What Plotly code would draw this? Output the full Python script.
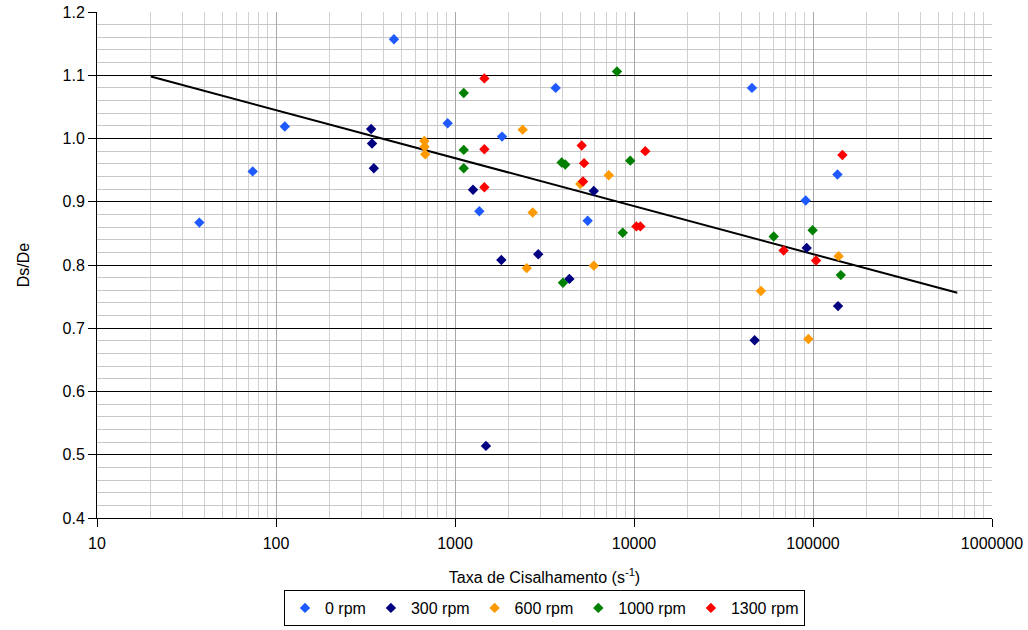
import plotly.graph_objects as go

# Shear rate (s^-1) and diameter ratio Ds/De for each rotation speed
x_0rpm = [37.3, 74.1, 112, 456, 910, 1368, 1832, 3651, 5508, 45600, 91000, 137000]
y_0rpm = [0.867, 0.948, 1.019, 1.157, 1.024, 0.885, 1.003, 1.080, 0.870, 1.080, 0.902, 0.943]

x_300rpm = [340, 344, 352, 1261, 1815, 2917, 4355, 1489, 5960, 92200, 47200, 138000]
y_300rpm = [1.015, 0.992, 0.953, 0.919, 0.808, 0.817, 0.778, 0.514, 0.917, 0.827, 0.681, 0.735]

x_600rpm = [674, 676, 682, 2388, 2716, 2516, 5012, 7226, 5960, 51200, 94200, 139000]
y_600rpm = [0.996, 0.987, 0.975, 1.014, 0.883, 0.795, 0.928, 0.942, 0.799, 0.759, 0.683, 0.814]

x_1000rpm = [1119, 1119, 1119, 3944, 4129, 8035, 9528, 8650, 4009, 60300, 99500, 143000]
y_1000rpm = [1.072, 0.982, 0.953, 0.962, 0.959, 1.106, 0.965, 0.851, 0.772, 0.845, 0.855, 0.784]

x_1300rpm = [1459, 1459, 1459, 5103, 5260, 5190, 11560, 10310, 10850, 68500, 104000, 146000]
y_1300rpm = [1.095, 0.983, 0.923, 0.989, 0.961, 0.932, 0.980, 0.861, 0.861, 0.823, 0.807, 0.974]

# Logarithmic trend line endpoints
trend_x = [20, 640000]
trend_y = [1.098, 0.756]

series = [
    ("0 rpm", x_0rpm, y_0rpm, "#1E5AFF"),
    ("300 rpm", x_300rpm, y_300rpm, "#000080"),
    ("600 rpm", x_600rpm, y_600rpm, "#FF9900"),
    ("1000 rpm", x_1000rpm, y_1000rpm, "#008000"),
    ("1300 rpm", x_1300rpm, y_1300rpm, "#FF0000"),
]

FONT = "Liberation Sans, Arial, sans-serif"
FS = 16

fig = go.Figure()

fig.add_trace(go.Scatter(
    x=trend_x, y=trend_y, mode="lines",
    line=dict(color="black", width=2),
    showlegend=False, hoverinfo="skip",
))

for name, xs, ys, color in series:
    fig.add_trace(go.Scatter(
        x=xs, y=ys, mode="markers", name=name,
        marker=dict(symbol="diamond", size=8, color=color, line=dict(width=0)),
    ))

fig.update_layout(
    width=1028, height=630,
    margin=dict(l=97, r=36, t=12, b=112),
    paper_bgcolor="white", plot_bgcolor="white",
    font=dict(family=FONT, size=FS, color="black"),
    legend=dict(
        orientation="h", x=0.5, xanchor="center", xref="paper",
        yref="container", y=40 / 630, yanchor="top",
        bordercolor="black", borderwidth=1,
        font=dict(family=FONT, size=FS),
        itemsizing="trace", itemwidth=30, tracegroupgap=0,
    ),
)

fig.update_xaxes(
    type="log", range=[1, 6], automargin=False,
    tickvals=[10, 100, 1000, 10000, 100000, 1000000],
    ticktext=["10", "100", "1000", "10000", "100000", "1000000"],
    showline=True, linecolor="black", linewidth=1,
    ticks="outside", ticklen=8, tickcolor="black", ticklabelstandoff=3,
    showgrid=True, gridcolor="#A8A8A8", gridwidth=1,
    minor=dict(dtick="D1", showgrid=True, gridcolor="#D0D0D0", gridwidth=1, ticks=""),
    title=dict(text="Taxa de Cisalhamento (s<sup>-1</sup>)", font=dict(family=FONT, size=FS), standoff=20),
    zeroline=False,
)

fig.update_yaxes(
    range=[0.4, 1.2], dtick=0.1, tickformat=".1f", automargin=False,
    showline=True, linecolor="black", linewidth=1,
    ticks="outside", ticklen=8, tickcolor="black",
    showgrid=True, gridcolor="black", gridwidth=1,
    minor=dict(dtick=0.02, showgrid=True, gridcolor="#C8C8C8", gridwidth=1, ticks=""),
    title=dict(text="Ds/De", font=dict(family=FONT, size=FS), standoff=28),
    zeroline=False,
)

fig.write_html("out.html")
